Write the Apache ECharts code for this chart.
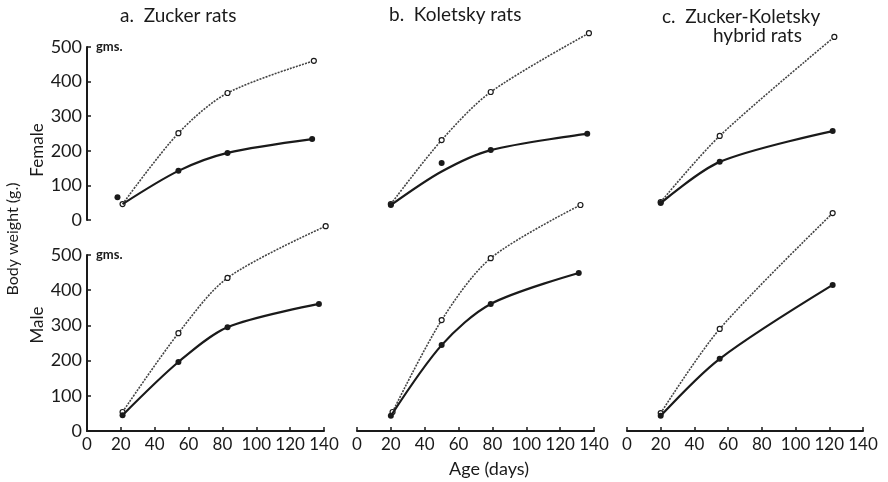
<!DOCTYPE html>
<html>
<head>
<meta charset="utf-8">
<title>Body weight of rats</title>
<script src="https://cdn.jsdelivr.net/npm/echarts@6/dist/echarts.min.js"></script>
<style>
  html, body { margin: 0; padding: 0; background: #fff; }
  #chart { width: 888px; height: 482px; }
</style>
</head>
<body>
<div id="chart"></div>
<script>
/* axis ranges */
const ageMax = 140
const ageStep = 20
const weightMax = 500
const weightStep = 100

/* a. Zucker rats */
const zuckerFemaleObese = [[21, 46], [54, 251], [83, 367], [134, 460]]
const zuckerFemaleLean = [[21, 46], [54, 142], [83, 194], [133, 234]]
const zuckerFemaleStray = [[18, 66]]
const zuckerMaleObese = [[21, 54], [54, 278], [83, 435], [141, 582]]
const zuckerMaleLean = [[21, 45], [54, 196], [83, 295], [137, 361]]

/* b. Koletsky rats */
const koletskyFemaleObese = [[20, 46], [50, 231], [79, 370], [137, 540]]
const koletskyFemaleLean = [[20, 43], [50, 140], [79, 202], [136, 249]]
const koletskyFemaleStray = [[50, 165]]
const koletskyMaleObese = [[21, 54], [50, 315], [79, 491], [132, 642]]
const koletskyMaleLean = [[20, 43], [50, 244], [79, 361], [131, 449]]

/* c. Zucker-Koletsky hybrid rats */
const hybridFemaleObese = [[20, 52], [55, 243], [123, 529]]
const hybridFemaleLean = [[20, 49], [55, 168], [122, 257]]
const hybridMaleObese = [[20, 51], [55, 290], [122, 619]]
const hybridMaleLean = [[20, 43], [55, 205], [122, 415]]

/* panel layout: column left edge, row top/height */
const panels = [
  { left: 87, width: 237, top: 47, height: 173, obese: zuckerFemaleObese, lean: zuckerFemaleLean, stray: zuckerFemaleStray, hideDot: [0], yAxis: true, xAxis: false },
  { left: 87, width: 237, top: 255, height: 176, obese: zuckerMaleObese, lean: zuckerMaleLean, stray: [], hideDot: [], yAxis: true, xAxis: true },
  { left: 357, width: 237, top: 47, height: 173, obese: koletskyFemaleObese, lean: koletskyFemaleLean, stray: koletskyFemaleStray, hideDot: [1], yAxis: false, xAxis: false },
  { left: 357, width: 237, top: 255, height: 176, obese: koletskyMaleObese, lean: koletskyMaleLean, stray: [], hideDot: [], yAxis: false, xAxis: true },
  { left: 627, width: 236, top: 47, height: 173, obese: hybridFemaleObese, lean: hybridFemaleLean, stray: [], hideDot: [], yAxis: false, xAxis: false },
  { left: 627, width: 236, top: 255, height: 176, obese: hybridMaleObese, lean: hybridMaleLean, stray: [], hideDot: [], yAxis: false, xAxis: true }
]

const fontFamily = 'Lato, "DejaVu Sans", sans-serif'
const ink = '#1a1a1a'

const grid = []
const xAxis = []
const yAxis = []
const series = []

panels.forEach((p, i) => {
  grid.push({ left: p.left, top: p.top, width: p.width, height: p.height })

  /* x axis: only the bottom row shows it */
  xAxis.push({
    type: 'value',
    gridIndex: i,
    min: 0,
    max: ageMax,
    interval: ageStep,
    show: p.xAxis,
    splitLine: { show: false },
    axisLine: { show: true, onZero: false, lineStyle: { color: ink, width: 2 } },
    axisTick: { show: true, inside: true, length: 4, lineStyle: { color: ink, width: 1.5 } },
    axisLabel: { color: ink, fontSize: 17, fontFamily: fontFamily, margin: 5 }
  })

  /* y axis: only column a shows it */
  yAxis.push({
    type: 'value',
    gridIndex: i,
    min: 0,
    max: weightMax,
    interval: weightStep,
    show: p.yAxis,
    splitLine: { show: false },
    axisLine: { show: true, onZero: false, lineStyle: { color: ink, width: 2 } },
    axisTick: { show: true, inside: true, length: 4, lineStyle: { color: ink, width: 1.5 } },
    axisLabel: { color: ink, fontSize: 18, fontFamily: fontFamily, margin: 5 }
  })

  /* obese: dotted line with open circles */
  series.push({
    type: 'line',
    xAxisIndex: i,
    yAxisIndex: i,
    data: p.obese,
    smooth: 0.3,
    clip: false,
    symbol: 'circle',
    symbolSize: 5,
    itemStyle: { color: '#fff', borderColor: ink, borderWidth: 1.2 },
    lineStyle: { color: '#444', width: 1.6, type: [2, 1.2] },
    animation: false,
    z: 2
  })

  /* lean: solid line with filled dots */
  series.push({
    type: 'line',
    xAxisIndex: i,
    yAxisIndex: i,
    data: p.lean.map((d, k) => (p.hideDot.indexOf(k) > -1 ? { value: d, symbol: 'none' } : d)),
    smooth: 0.3,
    clip: false,
    symbol: 'circle',
    symbolSize: 6,
    itemStyle: { color: ink },
    lineStyle: { color: ink, width: 2.2 },
    animation: false,
    z: 3
  })

  /* dots off the fitted curve */
  if (p.stray.length) {
    series.push({
      type: 'scatter',
      xAxisIndex: i,
      yAxisIndex: i,
      data: p.stray,
      symbol: 'circle',
      symbolSize: 6,
      itemStyle: { color: ink, opacity: 1 },
      animation: false,
      z: 3
    })
  }
})

const textStyle = (text, size) => ({ text: text, fill: ink, font: `${size}px ${fontFamily}` })

const chart = echarts.init(document.getElementById('chart'), null, { renderer: 'canvas' })
chart.setOption({
  backgroundColor: '#fff',
  animation: false,
  grid: grid,
  xAxis: xAxis,
  yAxis: yAxis,
  series: series,
  graphic: [
    /* panel titles */
    { type: 'text', left: 120, top: 6, style: textStyle('a.  Zucker rats', 19) },
    { type: 'text', left: 389, top: 5, style: textStyle('b.  Koletsky rats', 19) },
    { type: 'text', left: 662, top: 7, style: textStyle('c.  Zucker-Koletsky', 19) },
    { type: 'text', left: 713, top: 26, style: textStyle('hybrid rats', 19) },
    /* units */
    { type: 'text', left: 96, top: 40, style: { text: 'gms.', fill: ink, font: `bold 13px ${fontFamily}` } },
    { type: 'text', left: 96, top: 248, style: { text: 'gms.', fill: ink, font: `bold 13px ${fontFamily}` } },
    /* row and axis names */
    { type: 'text', x: 38, y: 150, rotation: Math.PI / 2, style: Object.assign(textStyle('Female', 17), { align: 'center', verticalAlign: 'middle' }) },
    { type: 'text', x: 38, y: 325, rotation: Math.PI / 2, style: Object.assign(textStyle('Male', 17), { align: 'center', verticalAlign: 'middle' }) },
    { type: 'text', x: 13, y: 239, rotation: Math.PI / 2, style: Object.assign(textStyle('Body weight (g.)', 16), { align: 'center', verticalAlign: 'middle' }) },
    { type: 'text', x: 489, y: 469, style: Object.assign(textStyle('Age (days)', 18), { align: 'center', verticalAlign: 'middle' }) }
  ]
})
</script>
</body>
</html>
